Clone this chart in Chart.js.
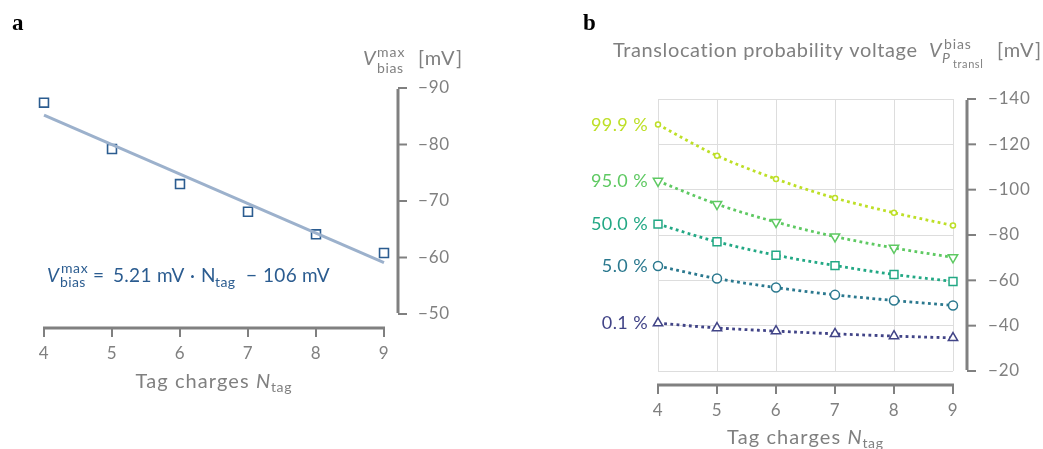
<!DOCTYPE html>
<html>
<head>
<meta charset="utf-8">
<script src="https://cdn.jsdelivr.net/npm/chart.js@4.4.1/dist/chart.umd.min.js"></script>
<style>
  body { margin: 0; background: #fff; }
  #wrap { position: relative; width: 1043px; height: 449px; }
  canvas { position: absolute; top: 0; }
  #chartA { left: 0; }
  #chartB { left: 521px; }
</style>
</head>
<body>
<div id="wrap">
  <canvas id="chartA" width="521" height="449"></canvas>
  <canvas id="chartB" width="522" height="449"></canvas>
</div>
<script>
// Panel a: maximum bias voltage vs tag charges
const tagCharges = [4, 5, 6, 7, 8, 9];
const vBiasMax = [-87.4, -79.2, -73.0, -68.1, -64.1, -60.8];
const fitX = [4, 9];
const fitY = [-85.2, -59.1];
const ticksA = [-90, -80, -70, -60, -50];

// Panel b: translocation probability voltages
const probLabels = ['0.1 %', '5.0 %', '50.0 %', '95.0 %', '99.9 %'];
const p001 = [-41.1, -39.0, -37.6, -36.4, -35.4, -34.6];
const p050 = [-66.3, -60.8, -56.8, -53.6, -51.1, -48.9];
const p500 = [-84.8, -77.0, -71.1, -66.5, -62.6, -59.5];
const p950 = [-103.8, -93.6, -85.7, -79.3, -74.3, -70.1];
const p999 = [-128.7, -115.0, -104.7, -96.3, -89.8, -84.2];
const ticksB = [-140, -120, -100, -80, -60, -40, -20];

const FONT = 'Lato, "DejaVu Sans", sans-serif';
const SERIF = '"Liberation Serif", serif';
const gray = '#808080';
const blue = '#2b5c90';
const probColors = ['#414487', '#2a788e', '#22a884', '#5ec962', '#bddf26'];

function pts(ys) {
    return tagCharges.map((x, i) => ({ x: x, y: ys[i] }));
}

function minusFmt(v) {
    return v < 0 ? '\u2212' + Math.abs(v) : String(v);
}

// draw text pieces (italic, sub/superscripts); p.x pins a piece, p.stack puts it under the previous one
function drawRich(ctx, x, y, parts, color, align) {
    ctx.save();
    ctx.fillStyle = color;
    ctx.textBaseline = 'alphabetic';
    ctx.textAlign = 'left';
    const run = function (x0, draw) {
        let cx = x0, lastStart = x0, lastEnd = x0;
        parts.forEach(p => {
            ctx.font = (p.b ? 'bold ' : '') + (p.i ? 'italic ' : '') + p.s + 'px ' + (p.f || FONT);
            ctx.letterSpacing = (p.ls || 0) + 'px';
            const w = ctx.measureText(p.t).width;
            let start = p.x !== undefined ? p.x : (p.stack ? lastStart : cx);
            if (draw) ctx.fillText(p.t, start, y + (p.dy || 0));
            if (p.stack) {
                cx = Math.max(lastEnd, start + w);
            } else {
                lastStart = start;
                cx = start + w;
            }
            lastEnd = cx;
        });
        return cx - x0;
    };
    if (align === 'right') x -= run(x, false);
    else if (align === 'center') x -= run(x, false) / 2;
    run(x, true);
    ctx.restore();
}

// offset axis lines (spines) drawn from the library scales
const spines = {
    id: 'spines',
    beforeDraw(chart) {
        chart.ctx.letterSpacing = '0.8px';
    },
    afterDraw(chart) {
        const ctx = chart.ctx, xs = chart.scales.x, ys = chart.scales.y, area = chart.chartArea;
        const gap = 14;
        ctx.save();
        ctx.strokeStyle = gray;
        const yy = area.bottom + gap;
        ctx.lineWidth = 3;
        ctx.beginPath();
        ctx.moveTo(xs.getPixelForValue(xs.min) - 1, yy);
        ctx.lineTo(xs.getPixelForValue(xs.max) + 1, yy);
        ctx.stroke();
        const xx = area.right + gap;
        ctx.beginPath();
        ctx.moveTo(xx, ys.getPixelForValue(ys.min) + 1);
        ctx.lineTo(xx, ys.getPixelForValue(ys.max) - 1);
        ctx.stroke();
        ctx.lineWidth = 2;
        xs.ticks.forEach(t => {
            const px = xs.getPixelForValue(t.value);
            ctx.beginPath();
            ctx.moveTo(px, yy);
            ctx.lineTo(px, yy + 9);
            ctx.stroke();
        });
        ys.ticks.forEach(t => {
            const py = ys.getPixelForValue(t.value);
            ctx.beginPath();
            ctx.moveTo(xx, py);
            ctx.lineTo(xx + 9, py);
            ctx.stroke();
        });
        ctx.restore();
    }
};

function baseScales(yTicks, xHeight, yWidth, yPad) {
    return {
        x: {
            type: 'linear', min: 4, max: 9,
            afterFit: s => { s.height = xHeight; },
            afterBuildTicks: s => { s.ticks = tagCharges.map(v => ({ value: v })); },
            border: { display: false },
            grid: { display: false, drawTicks: false },
            ticks: { padding: 29, color: gray, font: { family: FONT, size: 17 } }
        },
        y: {
            type: 'linear', position: 'right', reverse: true,
            min: yTicks[0], max: yTicks[yTicks.length - 1],
            afterFit: s => { s.width = yWidth; },
            afterBuildTicks: s => { s.ticks = yTicks.map(v => ({ value: v })); },
            border: { display: false },
            grid: { display: false, drawTicks: false },
            ticks: { padding: yPad, color: gray, font: { family: FONT, size: 17 }, callback: minusFmt }
        }
    };
}

function xTitle(ctx, cx, y) {
    drawRich(ctx, 0, y, [
        { t: 'Tag charges', s: 20, ls: 1.1, x: cx - 78.5 },
        { t: 'N', s: 20, i: true, x: cx + 42 },
        { t: 'tag', s: 14, ls: 0.6, dy: 4, x: cx + 57 }
    ], gray);
}

// ---------- panel a ----------
const textsA = {
    id: 'textsA',
    afterDraw(chart) {
        const ctx = chart.ctx, area = chart.chartArea;
        drawRich(ctx, 12, 30, [{ t: 'a', s: 23, b: true, f: SERIF }], '#000');
        drawRich(ctx, 0, 65, [
            { t: 'V', s: 20, i: true, x: 363 },
            { t: 'max', s: 14, ls: 1, dy: -8, x: 377 },
            { t: 'bias', s: 14, ls: 0.6, dy: 8, x: 377 },
            { t: '[mV]', s: 20, ls: 1.2, x: 418 }
        ], gray);
        drawRich(ctx, 0, 282, [
            { t: 'V', s: 19, i: true, x: 47 },
            { t: 'max', s: 14, ls: 0.6, dy: -9, x: 61 },
            { t: 'bias', s: 14, ls: 0.4, dy: 5, x: 60 },
            { t: '=', s: 19, x: 93 },
            { t: '5.21 mV', s: 19, ls: 0.3, x: 113 },
            { t: '\u00b7', s: 19, x: 190 },
            { t: 'N', s: 19, x: 201 },
            { t: 'tag', s: 14, ls: 0.4, dy: 5, x: 215 },
            { t: '\u2212', s: 19, x: 246 },
            { t: '106 mV', s: 19, ls: 0.3, x: 263 }
        ], blue);
        xTitle(ctx, (area.left + area.right) / 2, 388);
    }
};

const scalesA = baseScales(ticksA, 449 - 314, 521 - 384, 34);

new Chart(document.getElementById('chartA'), {
    type: 'scatter',
    data: {
        datasets: [
            {
                type: 'line',
                data: fitX.map((x, i) => ({ x: x, y: fitY[i] })),
                borderColor: '#9cb1cc',
                borderWidth: 3,
                pointRadius: 0,
                clip: false
            },
            {
                data: pts(vBiasMax),
                pointStyle: 'rect',
                pointRadius: 6.3,
                borderColor: blue,
                backgroundColor: 'rgba(255,255,255,0)',
                borderWidth: 1.6,
                clip: false
            }
        ]
    },
    options: {
        responsive: false,
        animation: false,
        layout: { padding: { left: 44, top: 88, right: 0, bottom: 0 } },
        plugins: { legend: { display: false }, tooltip: { enabled: false } },
        scales: scalesA
    },
    plugins: [spines, textsA]
});

// ---------- panel b ----------
const OFF = 521;
const seriesB = [p001, p050, p500, p950, p999];
const stylesB = [
    { pointStyle: 'triangle', r: 5.4, rot: 0 },
    { pointStyle: 'circle', r: 4.5, rot: 0 },
    { pointStyle: 'rect', r: 5.6, rot: 0 },
    { pointStyle: 'triangle', r: 5.4, rot: 180 },
    { pointStyle: 'circle', r: 2.5, rot: 0 }
];

const textsB = {
    id: 'textsB',
    afterDraw(chart) {
        const ctx = chart.ctx, area = chart.chartArea, xs = chart.scales.x, ys = chart.scales.y;
        drawRich(ctx, 583 - OFF, 30, [{ t: 'b', s: 23, b: true, f: SERIF }], '#000');
        drawRich(ctx, 0, 57, [
            { t: 'Translocation probability voltage', s: 20, ls: 0.62, x: 613 - OFF },
            { t: 'V', s: 20, i: true, x: 929 - OFF },
            { t: 'bias', s: 14, ls: 0.9, dy: -8, x: 944 - OFF },
            { t: 'P', s: 14, i: true, dy: 6, x: 942 - OFF },
            { t: 'transl', s: 11, ls: 0.6, dy: 11, x: 953 - OFF },
            { t: '[mV]', s: 20, ls: 1.2, x: 997 - OFF }
        ], gray);
        xTitle(ctx, (area.left + area.right) / 2, 444);
        seriesB.forEach((s, i) => {
            drawRich(ctx, xs.getPixelForValue(4) - 10, ys.getPixelForValue(s[0]) + 6,
                [{ t: probLabels[i], s: 18, ls: 0.4 }], probColors[i], 'right');
        });
    }
};

const scalesB = baseScales(ticksB, 449 - 371, 522 - 432, 35);
scalesB.x.grid = { display: true, drawTicks: false, color: '#dddddd', lineWidth: 1 };
scalesB.y.grid = { display: true, drawTicks: false, color: '#dddddd', lineWidth: 1 };

new Chart(document.getElementById('chartB'), {
    type: 'line',
    data: {
        datasets: seriesB.map((s, i) => ({
            data: pts(s),
            borderColor: probColors[i],
            backgroundColor: '#ffffff',
            pointBorderColor: probColors[i],
            pointBackgroundColor: '#ffffff',
            borderWidth: 2.8,
            borderDash: [2.8, 3.4],
            cubicInterpolationMode: 'monotone',
            pointStyle: stylesB[i].pointStyle,
            pointRotation: stylesB[i].rot,
            pointRadius: stylesB[i].r,
            pointBorderWidth: 1.5,
            clip: false
        }))
    },
    options: {
        responsive: false,
        animation: false,
        layout: { padding: { left: 658 - OFF, top: 99, right: 0, bottom: 0 } },
        plugins: { legend: { display: false }, tooltip: { enabled: false } },
        scales: scalesB
    },
    plugins: [spines, textsB]
});
</script>
</body>
</html>
